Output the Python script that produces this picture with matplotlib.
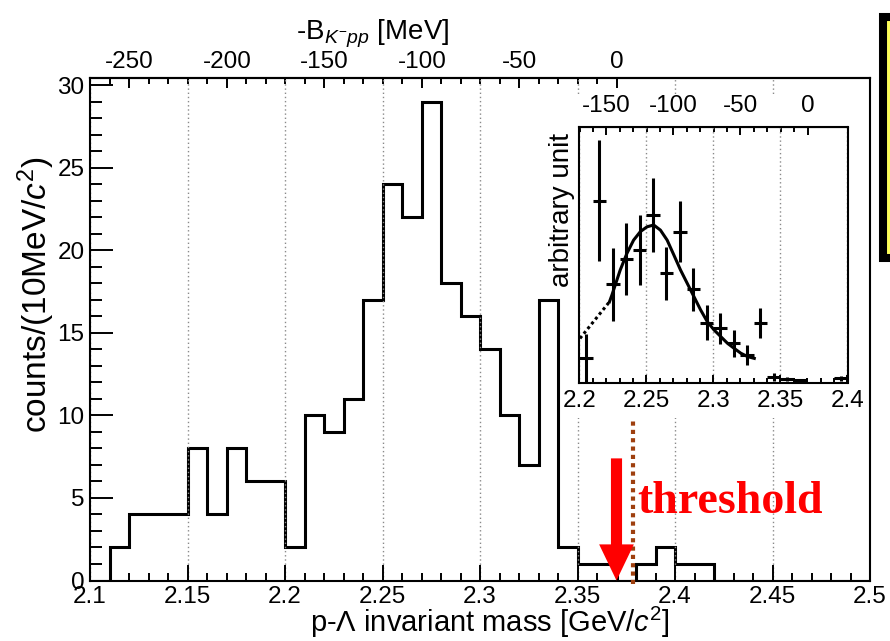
import numpy as np
import matplotlib
matplotlib.use('Agg')
import matplotlib.pyplot as plt
from matplotlib.patches import Rectangle
from matplotlib.ticker import MultipleLocator, FixedLocator, FuncFormatter

plt.rcParams['font.family'] = ['Liberation Sans', 'DejaVu Sans']
plt.rcParams['mathtext.fontset'] = 'custom'
plt.rcParams['mathtext.rm'] = 'Liberation Sans'
plt.rcParams['mathtext.it'] = 'Liberation Sans:italic'
plt.rcParams['axes.unicode_minus'] = False

# main histogram: p-Lambda invariant mass, 10 MeV bins from 2.10 to 2.50
counts = [0, 2, 4, 4, 4, 8, 4, 8, 6, 6,
          2, 10, 9, 11, 17, 24, 22, 29, 18, 16,
          14, 10, 7, 17, 2, 1, 1, 0, 1, 2,
          1, 1, 0, 0, 0, 0, 0, 0, 0, 0]
x_ticks_main = [2.1, 2.15, 2.2, 2.25, 2.3, 2.35, 2.4, 2.45, 2.5]
b_ticks_main = [-250, -200, -150, -100, -50, 0]

# inset: data points with errors (arbitrary units)
in_x = [2.205, 2.215, 2.225, 2.235, 2.245, 2.255, 2.265, 2.275, 2.285,
        2.295, 2.305, 2.315, 2.325, 2.335, 2.345, 2.355, 2.365, 2.395]
in_y = [0.95, 7.11, 3.84, 4.82, 5.18, 6.55, 4.27, 5.90, 3.65,
        2.34, 2.12, 1.54, 1.08, 2.32, 0.23, 0.13, 0.10, 0.17]
in_err = [0.95, 2.37, 1.43, 1.40, 1.37, 1.43, 1.04, 1.20, 0.85,
          0.68, 0.59, 0.52, 0.38, 0.59, 0.16, 0.08, 0.06, 0.10]
# fit curve
fit_dot_x = [2.2005, 2.2225]
fit_dot_y = [1.73, 3.16]
fit_x = [2.2225, 2.2243, 2.2305, 2.2355, 2.2405, 2.2455, 2.2505, 2.2555, 2.2605,
         2.2655, 2.2705, 2.2755, 2.2805, 2.2855, 2.2905, 2.2955, 2.3005,
         2.3055, 2.3105, 2.3155, 2.3205, 2.3255, 2.3305]
fit_y = [3.16, 3.42, 4.40, 5.05, 5.57, 5.90, 6.09, 6.16, 5.96,
         5.57, 4.99, 4.40, 3.88, 3.36, 2.84, 2.38, 2.06,
         1.80, 1.54, 1.34, 1.15, 1.02, 0.95]
x_ticks_in = [2.2, 2.25, 2.3, 2.35, 2.4]
b_ticks_in = [-150, -100, -50, 0]

THR = 2.3702  # K- p p threshold [GeV]
arrow_x = 2.370
line_x = 2.3785

W, H = 890, 641


def fbox(l, t, r, b):
    return [l / W, 1 - b / H, (r - l) / W, (b - t) / H]


def to_b(m):
    return (m - THR) * 1000.0


def to_m(b):
    return b / 1000.0 + THR


fmt = FuncFormatter(lambda v, p: '%g' % round(v, 3))

fig = plt.figure(figsize=(8.9, 6.41), dpi=100)

# ---- main plot ----
ax = fig.add_axes(fbox(90, 78, 870, 580.5), zorder=0)
edges = np.linspace(2.10, 2.50, len(counts) + 1)
ax.stairs(counts, edges, color='black', lw=2.2)
ax.set_xlim(2.1, 2.5)
ax.set_ylim(0, 30.45)
ax.set_xticks(x_ticks_main)
ax.xaxis.set_major_formatter(fmt)
ax.xaxis.set_minor_locator(MultipleLocator(0.01))
ax.yaxis.set_major_locator(MultipleLocator(5))
ax.yaxis.set_minor_locator(MultipleLocator(1))
ax.tick_params(axis='x', which='major', direction='in', length=11.5, width=1.4,
               labelsize=17.5, pad=4, top=False)
ax.tick_params(axis='x', which='minor', direction='in', length=5.8, width=1.4, top=False)
ax.tick_params(axis='y', which='major', direction='in', length=16.6, width=1.4,
               labelsize=17.5, pad=4, right=False)
ax.tick_params(axis='y', which='minor', direction='in', length=8.6, width=1.4, right=False)
for s in ax.spines.values():
    s.set_linewidth(1.5)
ax.grid(axis='x', which='major', color='#8a8a8a', ls=(0, (1, 2)), lw=1.0)

sec = ax.secondary_xaxis('top', functions=(to_b, to_m))
sec.set_xticks(b_ticks_main)
sec.xaxis.set_minor_locator(FixedLocator(list(range(-270, 1, 10))))
sec.tick_params(which='major', direction='in', length=7.2, width=1.4, labelsize=17.5, pad=3.5)
sec.tick_params(which='minor', direction='in', length=4.3, width=1.4)
sec.spines['top'].set_linewidth(1.5)

# threshold marks
ax.plot([line_x, line_x], [-0.2, 9.7], color='#9E3F0E', lw=3.0,
        ls=(0, (1, 1)), clip_on=False, zorder=4)
ax.annotate('', xy=(arrow_x, 0), xytext=(arrow_x, 7.4),
            arrowprops=dict(arrowstyle='simple,head_length=2.6,head_width=2.5,tail_width=0.8',
                            mutation_scale=10, fc='red', ec='none', shrinkA=0, shrinkB=0),
            zorder=5)
fig.text(637 / W, 1 - 513 / H, 'threshold', color='red', fontsize=33,
         family='Liberation Serif', weight='bold', ha='left', va='baseline')

# axis titles
fig.text(670 / W, 1 - 632 / H, r'p-$\Lambda$ invariant mass [GeV/$c^{2}$]',
         fontsize=21, ha='right', va='baseline')
fig.text(36 / W, 1 - 295 / H, r'counts/(10MeV/$c^{2}$)', fontsize=24,
         rotation=90, ha='center', va='center')
fig.text(373 / W, 1 - 39 / H, r'-B$_{K^{-}pp}$ [MeV]', fontsize=20,
         ha='center', va='baseline')

# white pad behind the inset
fig.add_artist(Rectangle((562 / W, 1 - 418 / H), (866 - 562) / W, (418 - 96) / H,
                         transform=fig.transFigure, fc='white', ec='none', zorder=1))

# ---- inset ----
ax_in = fig.add_axes(fbox(579.3, 126.7, 847.5, 382.7), zorder=3)
ax_in.errorbar(in_x, in_y, yerr=in_err, xerr=0.005, fmt='none', ecolor='black',
               elinewidth=2.2, capsize=0)
ax_in.plot(fit_dot_x, fit_dot_y, color='black', lw=2.2, ls=(0, (1, 1)))
ax_in.plot(fit_x, fit_y, color='black', lw=2.2)
ax_in.set_xlim(2.2, 2.4)
ax_in.set_ylim(0, 10)
ax_in.set_xticks(x_ticks_in)
ax_in.xaxis.set_major_formatter(fmt)
ax_in.xaxis.set_minor_locator(MultipleLocator(0.01))
ax_in.set_yticks([])
ax_in.tick_params(axis='x', which='major', direction='in', length=6, width=1.4,
                  labelsize=17.5, pad=5, top=False)
ax_in.tick_params(axis='x', which='minor', direction='in', length=3.6, width=1.4, top=False)
for s in ax_in.spines.values():
    s.set_linewidth(1.5)
ax_in.grid(axis='x', which='major', color='#8a8a8a', ls=(0, (1, 2)), lw=1.0)
ax_in.text(-0.066, 0.675, 'arbitrary unit', transform=ax_in.transAxes, fontsize=20,
           rotation=90, ha='center', va='center')

sec_in = ax_in.secondary_xaxis('top', functions=(to_b, to_m))
sec_in.set_xticks(b_ticks_in)
sec_in.xaxis.set_minor_locator(FixedLocator(list(range(-170, 1, 10))))
sec_in.tick_params(which='major', direction='in', length=6, width=1.4, labelsize=17.5, pad=7)
sec_in.tick_params(which='minor', direction='in', length=3.6, width=1.4)

# clipped yellow box at right edge
fig.add_artist(Rectangle((883 / W, 1 - 258 / H), 0.2, (258 - 17) / H,
                         transform=fig.transFigure, fc='#ffff5a', ec='black', lw=5.8,
                         zorder=5))

fig.savefig('out.png', dpi=100)
